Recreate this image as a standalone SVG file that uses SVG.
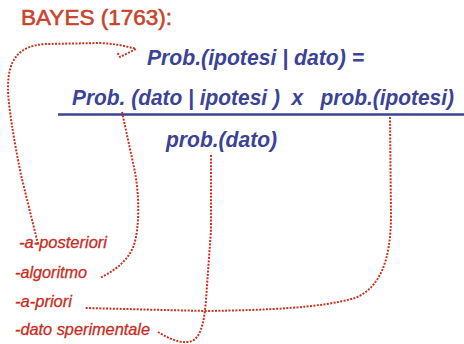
<svg xmlns="http://www.w3.org/2000/svg" width="464" height="344" viewBox="0 0 464 344">
<style>
.title{font-family:"Liberation Sans",Arial,sans-serif;font-size:22px;fill:#c9442c;stroke:#c9442c;stroke-width:0.6}
.eq{font-family:"Liberation Sans",Arial,sans-serif;font-size:21.5px;font-weight:bold;font-style:italic;fill:#3b4396;white-space:pre}
.lbl{font-family:"Liberation Sans",Arial,sans-serif;font-size:17px;font-style:italic;fill:#c62d1f;stroke:#c62d1f;stroke-width:0.3}
.dot{fill:none;stroke:#c8321e;stroke-width:2;stroke-dasharray:2 1.4}
</style>
<rect width="464" height="344" fill="#fff"/>
<g id="title"><text class="title" x="21" y="25" textLength="151" lengthAdjust="spacingAndGlyphs">BAYES (1763):</text></g>
<g id="formula">
<text class="eq" x="147" y="65" textLength="217" lengthAdjust="spacingAndGlyphs">Prob.(ipotesi | dato) =</text>
<text class="eq" x="72" y="105" textLength="382" lengthAdjust="spacingAndGlyphs" xml:space="preserve">Prob. (dato | ipotesi )  x   prob.(ipotesi)</text>
<line x1="58" y1="114.5" x2="464" y2="114.5" stroke="#3b4396" stroke-width="2.5"/>
<text class="eq" x="166" y="147" textLength="111" lengthAdjust="spacingAndGlyphs">prob.(dato)</text>
</g>
<g id="label-posteriori"><text class="lbl" x="19" y="248" textLength="88" lengthAdjust="spacingAndGlyphs">-a-posteriori</text></g>
<g id="label-algoritmo"><text class="lbl" x="15" y="278" textLength="72" lengthAdjust="spacingAndGlyphs">-algoritmo</text></g>
<g id="label-priori"><text class="lbl" x="15" y="307" textLength="57" lengthAdjust="spacingAndGlyphs">-a-priori</text></g>
<g id="label-dato"><text class="lbl" x="15" y="335" textLength="135" lengthAdjust="spacingAndGlyphs">-dato sperimentale</text></g>
<g id="connectors">
<path class="dot" d="M38,244 L21,175 C14,140 8,105 8,88 C8,60 18,46 45,44 L100,43 Q120,44 136,49 L120,57 L117,52"/>
<path class="dot" d="M122,112 L135,172 C139,195 140,225 134,245 C128,262 112,272 100,278"/>
<path class="dot" d="M390,117 L391,215 C391,260 380,288 355,298 C320,308 270,310 205,311 L85,308"/>
<path class="dot" d="M211,155 L211,230 L206,300 C204,325 200,341 188,342 C178,343 168,338 158,332"/>
</g>
</svg>
